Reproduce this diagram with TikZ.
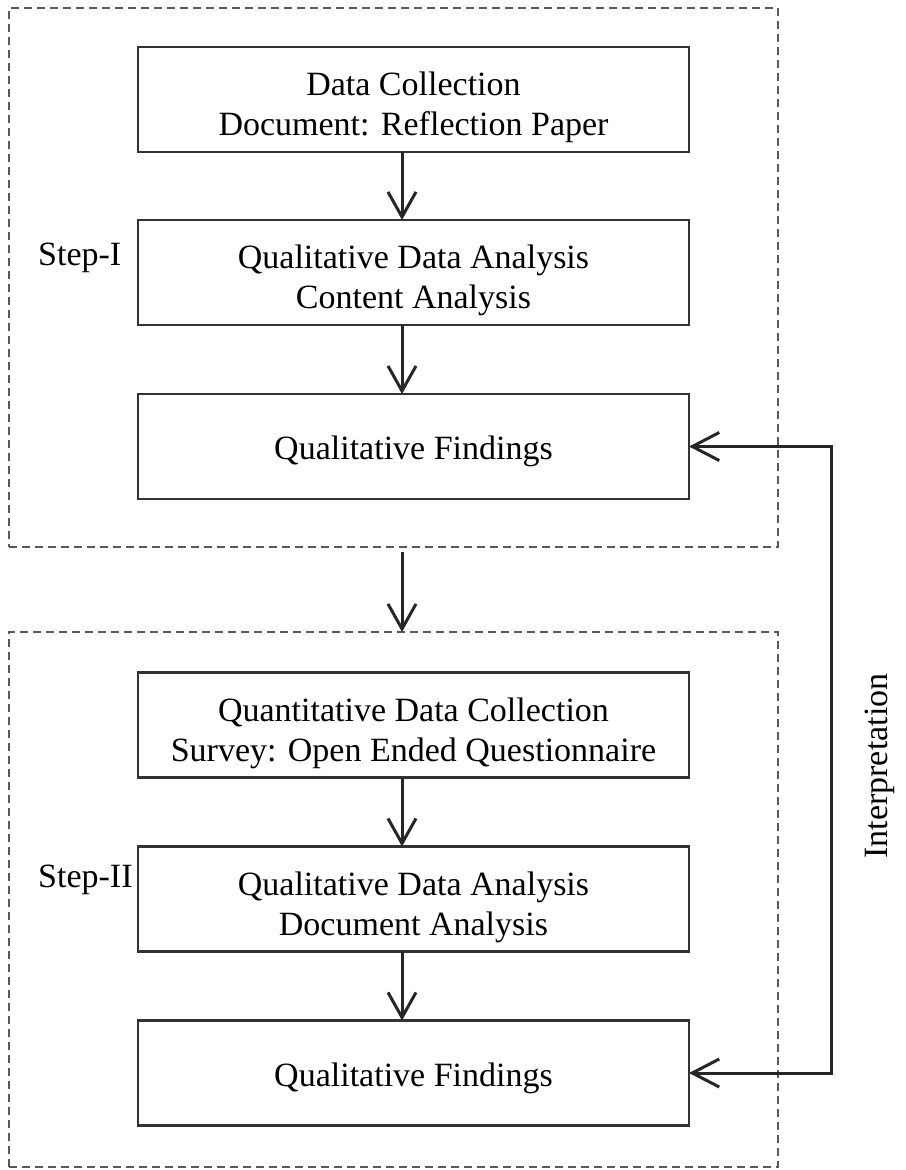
\documentclass[tikz,border=0pt]{standalone}
\usepackage{fontspec}
\setmainfont{Liberation Serif}
\usetikzlibrary{arrows.meta,calc}
\newcommand{\bxtxt}[2][8pt]{\raisebox{-#1}[\height][\depth]{\begin{tabular}{@{}c@{}}#2\end{tabular}}}
\begin{document}
\begin{tikzpicture}[x=1pt,y=-1pt,
  stepbox/.style={draw=black!80, line width=2.2pt, fill=white, minimum width=551pt, minimum height=105pt,
    inner sep=0pt, outer sep=0pt, align=center, font=\fontsize{34}{40}\selectfont},
  groupbox/.style={draw=black!65, line width=1.6pt, dash pattern=on 8pt off 5pt, inner sep=0pt, outer sep=0pt},
  arr/.style={draw=black!85, line width=3pt, -{Straight Barb[length=25pt,width=28pt,line width=3pt]}},
  arrtwo/.style={draw=black!85, line width=3pt, {Straight Barb[length=27pt,width=28pt,line width=3pt]}-{Straight Barb[length=27pt,width=28pt,line width=3pt]}},
  lbl/.style={font=\fontsize{34}{40}\selectfont, inner sep=0pt}
]
\useasboundingbox (0,0) rectangle (905,1170);
% group boxes
\node[groupbox, minimum width=769pt, minimum height=539pt] (g1) at (393.5,277.5) {};
\node[groupbox, minimum width=769pt, minimum height=535pt] (g2) at (393.5,899.5) {};
% step boxes
\node[stepbox] (a) at (413.5,99.5) {\bxtxt{Data Collection\\Document: Reflection Paper}};
\node[stepbox] (b) at (413.5,272.5) {\bxtxt{Qualitative Data Analysis\\Content Analysis}};
\node[stepbox] (c) at (413.5,446.5) {\bxtxt[5pt]{Qualitative Findings}};
\node[stepbox] (d) at (413.5,725) {\bxtxt{Quantitative Data Collection\\Survey: Open Ended Questionnaire}};
\node[stepbox] (e) at (413.5,899) {\bxtxt{Qualitative Data Analysis\\Document Analysis}};
\node[stepbox] (f) at (413.5,1073) {\bxtxt[5pt]{Qualitative Findings}};
% labels
\node[lbl, anchor=base west] (s1) at (38,265) {Step-I};
\node[lbl, anchor=base west] (s2) at (38,887) {Step-II};
\node[lbl, rotate=90] (interp) at (880,766) {Interpretation};
% connectors
\coordinate (ax) at (402,0);
\coordinate (ix) at (831,0);
\draw[arr] (a.south -| ax) -- (b.north -| ax);
\draw[arr] (b.south -| ax) -- (c.north -| ax);
\draw[arr, shorten <=5pt] (g1.south -| ax) -- (g2.north -| ax);
\draw[arr] (d.south -| ax) -- (e.north -| ax);
\draw[arr] (e.south -| ax) -- (f.north -| ax);
\draw[arrtwo] (c.east) -- (c.east -| ix) |- (f.east);
\end{tikzpicture}
\end{document}
